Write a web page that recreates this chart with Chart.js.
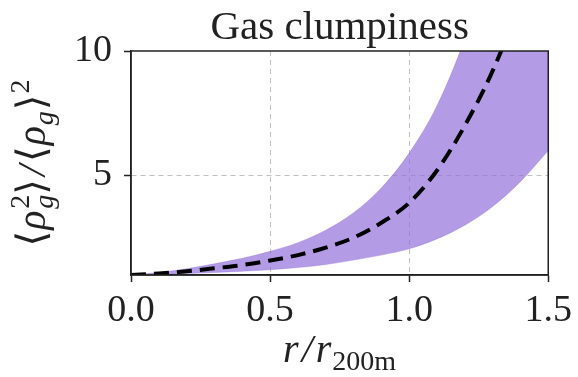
<!DOCTYPE html>
<html>
<head>
<meta charset="utf-8">
<script src="https://cdn.jsdelivr.net/npm/chart.js@4.4.0/dist/chart.umd.min.js"></script>
<style>
  html, body { margin: 0; padding: 0; background: #fff; }
</style>
</head>
<body>
<canvas id="clump" width="578" height="377"></canvas>
<script>
const radius = [0, 0.1, 0.2, 0.3, 0.4, 0.5, 0.6, 0.7, 0.8, 0.9, 1.0, 1.1, 1.2, 1.3, 1.4, 1.5];
const upper  = [1.0, 1.1, 1.25, 1.45, 1.67, 1.95, 2.3, 2.8, 3.5, 4.5, 5.9, 7.8, 10.5, 14, 19, 25];
const median = [1.0, 1.06, 1.15, 1.27, 1.4, 1.58, 1.8, 2.1, 2.5, 3.1, 3.9, 5.2, 7.0, 9.2, 12, 15.5];
const lower  = [1.0, 1.02, 1.06, 1.1, 1.15, 1.21, 1.3, 1.42, 1.6, 1.8, 2.05, 2.45, 3.0, 3.75, 4.75, 6.0];
const xTicks = [0, 0.5, 1.0, 1.5];
const yTicks = [5, 10];

const SERIF = '"Liberation Serif", "DejaVu Serif", serif';
const FS = 38;
const INK = '#222';
const band = 'rgba(147, 112, 219, 0.7)';

const pts = arr => radius.map((r, i) => ({ x: r, y: arr[i] }));

function fontOf(p, size) {
  return (p.it ? 'italic ' : '') + Math.round(size * (p.s || 1)) + 'px ' + SERIF;
}

// lay out a run of text pieces (sub/superscripts), returns total width
function layoutRun(ctx, pieces, size) {
  let x = 0, lastX = 0, lastW = 0;
  pieces.forEach(p => {
    ctx.font = fontOf(p, size);
    const w = ctx.measureText(p.t).width + (p.k || 0);
    if (p.over) {
      p.x = lastX;
      lastW = Math.max(lastW, w);
      x = lastX + lastW;
    } else {
      p.x = x; lastX = x; lastW = w; x += w;
    }
  });
  return x;
}

function drawRun(ctx, pieces, size, x0, y0) {
  pieces.forEach(p => {
    ctx.font = fontOf(p, size);
    ctx.fillText(p.t, x0 + p.x, y0 + (p.dy || 0));
  });
}

const yLabel = [
  { t: '⟨', k: 1 }, { t: 'ρ', it: 1, k: 2 },
  { t: '2', s: 0.7, dy: -16 }, { t: 'g', it: 1, s: 0.7, dy: 8, over: 1 },
  { t: '⟩', k: 3 }, { t: '/', it: 1, k: 3 }, { t: '⟨', k: 1 }, { t: 'ρ', it: 1, k: 1 },
  { t: 'g', it: 1, s: 0.7, dy: 8, k: 1 }, { t: '⟩', k: 1 }, { t: '2', s: 0.7, dy: -16 }
];
const xLabel = [
  { t: 'r', it: 1, k: 3 }, { t: '/', it: 1, k: 3 }, { t: 'r', it: 1, k: 1 },
  { t: '200m', s: 0.7, dy: 8 }
];

const labelsPlugin = {
  id: 'labels',
  afterDraw(chart) {
    const { ctx, chartArea: a } = chart;
    ctx.save();
    // frame
    ctx.strokeStyle = INK;
    ctx.lineWidth = 1.5;
    ctx.strokeRect(a.left, a.top, a.right - a.left, a.bottom - a.top);

    ctx.fillStyle = INK;
    ctx.textBaseline = 'alphabetic';
    ctx.textAlign = 'center';
    ctx.font = '41px ' + SERIF;
    ctx.fillText('Gas clumpiness', (a.left + a.right) / 2, 39);

    ctx.textAlign = 'left';
    const xw = layoutRun(ctx, xLabel, 40);
    drawRun(ctx, xLabel, 40, (a.left + a.right) / 2 - xw / 2, 362);

    const yw = layoutRun(ctx, yLabel, 40);
    ctx.translate(45, (a.top + a.bottom) / 2);
    ctx.rotate(-Math.PI / 2);
    drawRun(ctx, yLabel, 40, -yw / 2, 0);
    ctx.restore();
  }
};

const edgeX = v => v === 0 || v === 1.5;

new Chart(document.getElementById('clump'), {
  type: 'line',
  data: {
    datasets: [
      {
        label: 'median',
        data: pts(median),
        borderColor: '#000',
        borderWidth: 4,
        borderDash: [15, 8],
        pointRadius: 0,
        cubicInterpolationMode: 'monotone',
        fill: false,
      },
      {
        label: 'lower',
        data: pts(lower),
        borderColor: band,
        borderWidth: 0.5,
        pointRadius: 0,
        cubicInterpolationMode: 'monotone',
        fill: false,
      },
      {
        label: 'upper',
        data: pts(upper),
        borderColor: band,
        borderWidth: 0.5,
        backgroundColor: band,
        pointRadius: 0,
        cubicInterpolationMode: 'monotone',
        fill: '-1',
      }
    ]
  },
  options: {
    responsive: false,
    animation: false,
    layout: { padding: { top: 51, right: 29, left: 0, bottom: 0 } },
    plugins: { legend: { display: false }, tooltip: { enabled: false }, title: { display: false } },
    scales: {
      x: {
        type: 'linear',
        min: 0, max: 1.5,
        afterBuildTicks: s => { s.ticks = xTicks.map(v => ({ value: v })); },
        afterFit: s => { s.height = 102; },
        ticks: {
          font: { family: SERIF, size: FS },
          color: INK,
          padding: 6,
          maxRotation: 0,
          callback: v => v.toFixed(1),
        },
        grid: {
          color: c => edgeX(c.tick && c.tick.value) ? 'rgba(0,0,0,0)' : 'rgba(0,0,0,0.25)',
          lineWidth: 1,
          tickColor: INK,
          tickLength: 7,
          tickWidth: 1.5,
        },
        border: { color: INK, width: 1.5, dash: [5, 4] },
      },
      y: {
        type: 'linear',
        min: 1, max: 10,
        afterBuildTicks: s => { s.ticks = yTicks.map(v => ({ value: v })); },
        afterFit: s => { s.width = 131; },
        ticks: {
          font: { family: SERIF, size: FS },
          color: INK,
          padding: 12,
          callback: v => String(v),
        },
        grid: {
          color: c => (c.tick && c.tick.value === 10) ? 'rgba(0,0,0,0)' : 'rgba(0,0,0,0.25)',
          lineWidth: 1,
          tickColor: INK,
          tickLength: 7,
          tickWidth: 1.5,
        },
        border: { color: INK, width: 1.5, dash: [5, 4] },
      }
    }
  },
  plugins: [labelsPlugin]
});
</script>
</body>
</html>
